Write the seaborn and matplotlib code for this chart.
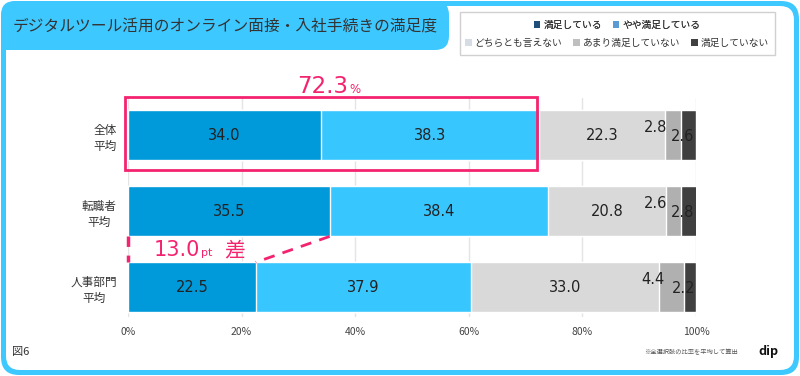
import matplotlib
matplotlib.use("Agg")
import matplotlib.pyplot as plt
from matplotlib.patches import FancyBboxPatch, Rectangle, Patch
import numpy as np
import seaborn as sns

# data
groups = ["全体\n平均", "転職者\n平均", "人事部門\n平均"]
answers = ["満足している", "やや満足している", "どちらとも言えない", "あまり満足していない", "満足していない"]
very_satisfied = [34.0, 35.5, 22.5]
fairly_satisfied = [38.3, 38.4, 37.9]
neutral = [22.3, 20.8, 33.0]
not_very = [2.8, 2.6, 4.4]
not_at_all = [2.6, 2.8, 2.2]
ticks = [0, 20, 40, 60, 80, 100]

bar_colors = ["#0099DA", "#38C6FF", "#D9D9D9", "#B0B0B0", "#404040"]
legend_colors = ["#1F4E79", "#5B9BD5", "#D6DCE4", "#BFBFBF", "#404040"]
cyan = "#3DC8FF"
pink = "#F4236F"
num_font = ["DejaVu Sans"]

sns.set_style("white")
plt.rcParams["font.family"] = ["Noto Sans CJK JP", "DejaVu Sans"]

fig = plt.figure(figsize=(8, 3.76), dpi=100)

# frame in pixel coordinates
bg = fig.add_axes([0, 0, 1, 1], zorder=0)
bg.set_xlim(0, 800)
bg.set_ylim(376, 0)
bg.axis("off")
bg.add_patch(FancyBboxPatch((1, 1), 798, 374, boxstyle="round,pad=0,rounding_size=18", fc=cyan, ec="none"))
bg.add_patch(FancyBboxPatch((6, 6), 788, 364, boxstyle="round,pad=0,rounding_size=14", fc="white", ec="none"))
bg.add_patch(FancyBboxPatch((1, 1), 448, 49, boxstyle="round,pad=0,rounding_size=14", fc=cyan, ec="none"))
bg.add_patch(Rectangle((1, 20), 30, 30, fc=cyan, ec="none"))
bg.text(13, 27, "デジタルツール活用のオンライン面接・入社手続きの満足度", fontsize=11.3,
        color="#333333", va="center", ha="left")
bg.add_patch(Rectangle((460, 12), 315, 43, fc="white", ec="#D0D0D0", lw=1))
bg.text(12, 352, "図6", fontsize=8, color="#333333", va="center")
bg.text(738, 352, "※全選択肢の比率を平均して算出", fontsize=4.5, color="#555555", va="center", ha="right")
bg.text(768, 352, "dip", fontsize=9, fontweight="bold", color="#111111", va="center", ha="center")

# legend (two centred rows)
handles = [Patch(fc=c, ec="none") for c in legend_colors]
leg_kw = dict(frameon=False, fontsize=7, handlelength=0.7, handleheight=0.7,
              handletextpad=0.3, columnspacing=1.1, borderpad=0, labelcolor="#333333")
leg1 = fig.legend(handles[:2], answers[:2], ncol=2, loc="center",
                  bbox_to_anchor=(617 / 800, 1 - 25 / 376), **leg_kw)
fig.add_artist(leg1)
fig.legend(handles[2:], answers[2:], ncol=3, loc="center",
           bbox_to_anchor=(617 / 800, 1 - 43 / 376), **leg_kw)

# main chart
ax = fig.add_axes([0.16, 0.157, 0.71, 0.582], zorder=1)
ax.set_facecolor("none")

series = np.array([very_satisfied, fairly_satisfied, neutral, not_very, not_at_all])
cum = np.cumsum(series, axis=0)
for i in range(len(series) - 1, -1, -1):
    sns.barplot(x=cum[i], y=groups, orient="h", color=bar_colors[i], saturation=1,
                width=0.66, ax=ax, zorder=2)

ax.set_xlim(0, 100)
ax.set_ylim(2.39, -0.49)
ax.set_xticks(ticks)
ax.set_xticklabels([f"{t}%" for t in ticks], fontsize=7.5, color="#444444")
ax.set_xlabel("")
ax.set_ylabel("")
ax.tick_params(axis="x", length=0, pad=7)
ax.tick_params(axis="y", length=0, pad=8)
for lab in ax.get_yticklabels():
    lab.set_fontsize(8.4)
    lab.set_color("#333333")
    lab.set_multialignment("center")
    lab.set_linespacing(1.3)
for s in ax.spines.values():
    s.set_visible(False)
ax.grid(axis="x", color="#E4E4E4", lw=1, zorder=0)
ax.grid(axis="y", visible=False)

# value labels
mids = cum - series / 2
lab_kw = dict(ha="center", va="center", fontsize=10.5, color="#222222", zorder=5, family=num_font)
for r in range(len(groups)):
    for i in range(3):
        ax.text(mids[i, r], r, f"{series[i, r]:.1f}", **lab_kw)
    ax.text(mids[3, r] - 3.2, r - 0.1, f"{series[3, r]:.1f}", **lab_kw)
    ax.text(mids[4, r] - 1.0, r + 0.02, f"{series[4, r]:.1f}", **lab_kw)

# highlight box for overall satisfied share
top2 = very_satisfied[0] + fairly_satisfied[0]
ax.add_patch(Rectangle((-0.6, -0.5), top2 + 0.3, 0.96, fill=False, ec=pink, lw=2,
                       clip_on=False, zorder=6))
ax.text(top2 / 2 + 2.6, -0.553, f"{top2:.1f}", ha="right", va="baseline", fontsize=16.5,
        color=pink, clip_on=False, family=num_font)
ax.text(top2 / 2 + 2.8, -0.553, "%", ha="left", va="baseline", fontsize=8.5,
        color=pink, clip_on=False, family=num_font)

# gap between job changers and HR
gap = very_satisfied[1] - very_satisfied[2]
ax.plot([0, 0], [1.33, 1.67], color=pink, lw=2.5, ls=(0, (3, 2.5)), clip_on=False, zorder=6)
ax.plot([very_satisfied[1], very_satisfied[2]], [1.33, 1.67], color=pink, lw=2,
        ls=(0, (4, 3)), clip_on=False, zorder=6)
ax.text(4.6, 1.59, f"{gap:.1f}", ha="left", va="baseline", fontsize=15, color=pink, family=num_font)
ax.text(12.9, 1.59, "pt", ha="left", va="baseline", fontsize=8, color=pink, family=num_font)
ax.text(16.9, 1.59, "差", ha="left", va="baseline", fontsize=15, color=pink)

fig.savefig("out.png", dpi=100)
